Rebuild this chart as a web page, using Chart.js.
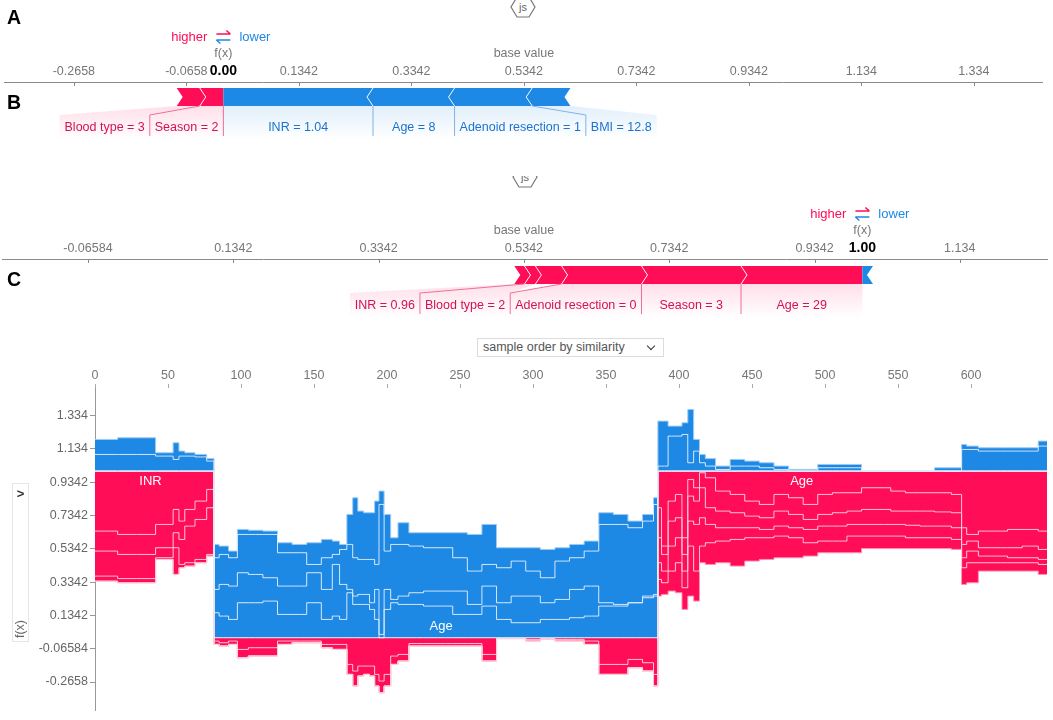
<!DOCTYPE html>
<html>
<head>
<meta charset="utf-8">
<title>Force plots</title>
<script src="https://cdn.jsdelivr.net/npm/chart.js@4.4.1/dist/chart.umd.min.js"></script>
<style>
  html, body { margin: 0; padding: 0; background: #fff; }
  body { width: 1053px; height: 720px; position: relative; overflow: hidden; font-family: "Liberation Sans", Arial, sans-serif; }
  canvas { position: absolute; left: 0; }
  #chartA { top: 0; }
  #chartB { top: 170px; }
  #chartC { top: 360px; }
  .letter { position: absolute; left: 7px; font: bold 19.5px/20px "Liberation Sans", Arial, sans-serif; color: #000; z-index: 2; }
  .jsicon { position: absolute; overflow: hidden; width: 26px; }
  .jsicon svg { position: absolute; left: 0; }
  #orderBox { position: absolute; left: 477px; top: 338px; width: 187px; height: 19px; box-sizing: border-box;
              border: 1px solid #dcdcdc; font-size: 12.5px; line-height: 17px; color: #555; padding-left: 5px; }
  #orderBox .chev { position: absolute; right: 9px; top: 4px; width: 5px; height: 5px;
                    border-right: 1.6px solid #333; border-bottom: 1.6px solid #333; transform: rotate(45deg); }
  #yBox { position: absolute; left: 12px; top: 483px; width: 17px; height: 159px; box-sizing: border-box; border: 1px solid #e6e6e6; }
  #yBox .arrow { position: absolute; left: 0; width: 15px; top: 2px; text-align: center; font: bold 13px "Liberation Sans", Arial, sans-serif; color: #333; }
  #yBox .lab { position: absolute; left: -8px; top: 138px; width: 30px; text-align: center; font-size: 12.5px; color: #666; transform: rotate(-90deg); }
</style>
</head>
<body>
<div class="letter" style="top:7px">A</div>
<div class="letter" style="top:92px">B</div>
<div class="letter" style="top:269px">C</div>

<div class="jsicon" style="left:510px; top:0; height:20px;">
  <svg width="26" height="24" style="top:-4px"><polygon points="7,1 19,1 25,11 19,21 7,21 1,11" fill="none" stroke="#777" stroke-width="1.2"/><text x="13" y="15" font-size="11" text-anchor="middle" fill="#666" font-family="Liberation Sans, Arial">js</text></svg>
</div>
<div class="jsicon" style="left:512px; top:176px; height:15px;">
  <svg width="26" height="24" style="top:-10px"><polygon points="7,1 19,1 25,11 19,21 7,21 1,11" fill="none" stroke="#777" stroke-width="1.2"/><text x="13" y="15" font-size="11" text-anchor="middle" fill="#666" font-family="Liberation Sans, Arial">js</text></svg>
</div>

<canvas id="chartA" width="1053" height="160"></canvas>
<canvas id="chartB" width="1053" height="160"></canvas>
<div id="orderBox">sample order by similarity<span class="chev"></span></div>
<canvas id="chartC" width="1053" height="360"></canvas>
<div id="yBox"><div class="arrow">&gt;</div><div class="lab">f(x)</div></div>

<script>
// ---------- panel A / B : single-sample force plots ----------
const ticksA = [-0.2658, -0.0658, 0.1342, 0.3342, 0.5342, 0.7342, 0.9342, 1.134, 1.334];
const fxA = 0.00;
const baseA = 0.5342;
const featA = ['Blood type = 3', 'Season = 2', 'INR = 1.04', 'Age = 8', 'Adenoid resection = 1', 'BMI = 12.8'];
const shapA = [0.041, 0.042, -0.266, -0.145, -0.138, -0.068];

const ticksB = [-0.06584, 0.1342, 0.3342, 0.5342, 0.7342, 0.9342, 1.134];
const fxB = 1.00;
const baseB = 0.5342;
const featB = ['INR = 0.96', 'Blood type = 2', '', 'Adenoid resection = 0', 'Season = 3', 'Age = 29', ''];
const shapB = [0.014, 0.015, 0.036, 0.110, 0.137, 0.167, -0.0146];

// ---------- panel C : stacked force plot over samples ----------
const cTicksX = [0, 50, 100, 150, 200, 250, 300, 350, 400, 450, 500, 550, 600];
const cTicksY = [1.334, 1.134, 0.9342, 0.7342, 0.5342, 0.3342, 0.1342, -0.06584, -0.2658];

const sampleIdx = [
  0, 15, 16, 41, 42, 50, 57, 58, 65, 72, 81,
  82, 88, 95, 100, 110, 120, 130, 140, 150, 160, 165, 170, 175, 178, 182, 186, 190, 193, 196, 200,
  205, 210, 220, 230, 240, 250, 260, 270, 280, 290, 300, 310, 320, 330, 340, 350, 360, 370, 380, 385,
  386, 390, 395, 400, 404, 408, 412, 416, 420, 430, 440, 450, 460, 470, 480, 490, 500, 510, 520, 530,
  540, 550, 560, 570, 580, 593, 594, 600, 610, 620, 630, 640, 652
];
const fxLine = [
  1, 1, 1, 1, 1, 1, 1, 1, 1, 1, 1,
  0, 0, 0, 0, 0, 0, 0, 0, 0, 0, 0, 0, 0, 0, 0, 0, 0, 0, 0, 0,
  0, 0, 0, 0, 0, 0, 0, 0, 0, 0, 0, 0, 0, 0, 0, 0, 0, 0, 0, 0,
  1, 1, 1, 1, 1, 1, 1, 1, 1, 1, 1, 1, 1, 1, 1, 1, 1, 1, 1, 1,
  1, 1, 1, 1, 1, 1, 1, 1, 1, 1, 1, 1, 1
];
// blue (pushing lower) boundaries, from f(x) outward
const blueEdge1 = [
  1, 1, 1, 1, 1, 1, 1, 1, 1, 1, 1,
  0.15, 0.13, 0.11, 0.21, 0.21, 0.22, 0.14, 0.14, 0.21, 0.11, 0.13, 0.11, 0.27, 0.20, 0.20, 0.20, 0.17, 0.11, 0.0, 0.17,
  0.21, 0.20, 0.20, 0.19, 0.19, 0.14, 0.14, 0.19, 0.11, 0.09, 0.09, 0.11, 0.11, 0.12, 0.13, 0.19, 0.19, 0.21, 0.24, 0.25,
  1, 1, 1, 1, 1, 1, 1, 1, 1, 1, 1, 1, 1, 1, 1, 1, 1, 1, 1, 1,
  1, 1, 1, 1, 1, 1, 1, 1, 1, 1, 1, 1, 1
];
const blueEdge2 = [
  1, 1, 1, 1, 1, 1, 1, 1, 1, 1, 1,
  0.29, 0.32, 0.31, 0.39, 0.38, 0.36, 0.31, 0.31, 0.39, 0.29, 0.44, 0.32, 0.29, 0.25, 0.26, 0.26, 0.21, 0.29, 0.02, 0.29,
  0.23, 0.25, 0.27, 0.28, 0.28, 0.28, 0.20, 0.31, 0.21, 0.25, 0.25, 0.21, 0.23, 0.29, 0.31, 0.21, 0.20, 0.21, 0.25, 0.26,
  1, 1, 1, 1, 1, 1, 1, 1, 1, 1, 1, 1, 1, 1, 1, 1, 1, 1, 1, 1,
  1, 1, 1, 1, 1, 1, 1, 1, 1, 1, 1, 1, 1
];
const blueEdge3 = [
  1.10, 1.10, 1.10, 1.10, 1.09, 1.09, 1.07, 1.09, 1.09, 1.085, 1.06,
  0.48, 0.50, 0.48, 0.62, 0.62, 0.62, 0.51, 0.51, 0.44, 0.48, 0.50, 0.53, 0.56, 0.48, 0.47, 0.47, 0.47, 0.44, 0.80, 0.52,
  0.56, 0.56, 0.55, 0.54, 0.54, 0.48, 0.40, 0.44, 0.42, 0.46, 0.40, 0.36, 0.46, 0.48, 0.52, 0.68, 0.68, 0.66, 0.70, 0.80,
  1.03, 1.03, 1.21, 1.21, 1.22, 1.05, 1.12, 1.05, 1.03, 1.01, 1.03, 1.03, 1.02, 1.01, 1.0, 1.0, 1.02, 1.02, 1.02, 1.0,
  1.0, 1.0, 1.0, 1.0, 1.0, 1.0, 1.13, 1.13, 1.12, 1.12, 1.12, 1.12, 1.15
];
const blueEdge4 = [
  1.19, 1.19, 1.20, 1.20, 1.11, 1.11, 1.17, 1.12, 1.11, 1.10, 1.075,
  0.56, 0.55, 0.52, 0.65, 0.645, 0.64, 0.57, 0.56, 0.57, 0.59, 0.58, 0.56, 0.74, 0.84, 0.76, 0.75, 0.75, 0.82, 0.88, 0.74,
  0.60, 0.69, 0.63, 0.63, 0.63, 0.63, 0.62, 0.68, 0.54, 0.54, 0.54, 0.53, 0.54, 0.56, 0.58, 0.75, 0.74, 0.70, 0.74, 0.84,
  1.30, 1.30, 1.27, 1.27, 1.29, 1.37, 1.19, 1.10, 1.075, 1.03, 1.07, 1.06, 1.05, 1.03, 1.01, 1.01, 1.04, 1.04, 1.04, 1.0,
  1.0, 1.0, 1.0, 1.0, 1.02, 1.02, 1.16, 1.15, 1.14, 1.14, 1.14, 1.14, 1.18
];
// red (pushing higher) boundaries, from f(x) outward
const redEdge1 = [
  0.64, 0.64, 0.62, 0.62, 0.68, 0.68, 0.77, 0.70, 0.77, 0.82, 0.89,
  -0.02, -0.03, -0.02, -0.07, -0.06, -0.06, -0.02, -0.02, -0.02, -0.04, -0.04, -0.04, -0.16, -0.20, -0.17, -0.17, -0.17, -0.22, -0.26, -0.22,
  -0.11, -0.10, -0.035, -0.035, -0.035, -0.035, -0.035, -0.10, -0.003, -0.003, -0.01, -0.005, -0.01, -0.01, -0.02, -0.16, -0.16, -0.13, -0.15, -0.22,
  0.78, 0.55, 0.82, 0.86, 0.60, 0.95, 0.90, 0.99, 0.96, 0.88, 0.86, 0.82, 0.80, 0.86, 0.84, 0.80, 0.86, 0.87, 0.87, 0.90,
  0.90, 0.88, 0.87, 0.87, 0.87, 0.86, 0.66, 0.62, 0.64, 0.64, 0.65, 0.65, 0.64
];
const redBottomMid = [
  -0.04, -0.05, -0.04, -0.12, -0.11, -0.11, -0.04, -0.03, -0.03, -0.06, -0.07, -0.07, -0.22, -0.29, -0.23, -0.22, -0.23, -0.29, -0.33, -0.29,
  -0.16, -0.14, -0.05, -0.05, -0.05, -0.05, -0.05, -0.14, -0.005, -0.005, -0.02, -0.01, -0.02, -0.02, -0.04, -0.22, -0.22, -0.18, -0.20, -0.29
];
const redEdge2 = [].concat(
  [0.52, 0.52, 0.50, 0.50, 0.54, 0.54, 0.63, 0.59, 0.67, 0.71, 0.78],
  redBottomMid,
  [0.60, 0.50, 0.70, 0.72, 0.50, 0.85, 0.82, 0.90, 0.78, 0.76, 0.75, 0.73, 0.72, 0.76, 0.74, 0.71, 0.74, 0.75, 0.76, 0.77,
   0.77, 0.76, 0.76, 0.76, 0.755, 0.75, 0.56, 0.58, 0.54, 0.54, 0.54, 0.55, 0.53]
);
const redEdge3 = [].concat(
  [0.37, 0.37, 0.355, 0.355, 0.48, 0.48, 0.54, 0.44, 0.45, 0.47, 0.50],
  redBottomMid,
  [0.45, 0.40, 0.55, 0.60, 0.40, 0.70, 0.68, 0.72, 0.68, 0.66, 0.66, 0.66, 0.65, 0.67, 0.66, 0.65, 0.67, 0.67, 0.68, 0.68,
   0.68, 0.68, 0.675, 0.67, 0.67, 0.66, 0.48, 0.52, 0.49, 0.49, 0.48, 0.48, 0.47]
);
const redEdge4 = [].concat(
  [0.34, 0.34, 0.33, 0.33, 0.47, 0.47, 0.38, 0.42, 0.43, 0.45, 0.49],
  redBottomMid,
  [0.35, 0.33, 0.40, 0.45, 0.30, 0.55, 0.40, 0.55, 0.57, 0.58, 0.59, 0.60, 0.60, 0.61, 0.60, 0.57, 0.58, 0.58, 0.61, 0.61,
   0.61, 0.61, 0.60, 0.60, 0.60, 0.59, 0.42, 0.45, 0.45, 0.45, 0.45, 0.45, 0.44]
);
const redEdge5 = [].concat(
  [0.34, 0.34, 0.33, 0.33, 0.47, 0.47, 0.38, 0.42, 0.43, 0.45, 0.49],
  redBottomMid,
  [0.25, 0.26, 0.28, 0.27, 0.17, 0.25, 0.22, 0.45, 0.44, 0.45, 0.43, 0.46, 0.47, 0.48, 0.48, 0.49, 0.51, 0.51, 0.51, 0.535,
   0.535, 0.535, 0.535, 0.535, 0.535, 0.53, 0.32, 0.33, 0.40, 0.40, 0.40, 0.40, 0.38]
);

const RED = '#ff0d57';
const BLUE = '#1e88e5';
const RED_TEXT = '#d3124f';
const BLUE_TEXT = '#1c73cf';
const FONT = '"Liberation Sans", Arial, sans-serif';

Chart.defaults.font.family = FONT;
Chart.defaults.animation = false;

// lay the features out around f(x): red ones end at f(x), blue ones start there
function splitForce(fx, names, shaps) {
  const segs = [];
  let right = fx;
  for (let i = names.length - 1; i >= 0; i--) {
    if (shaps[i] > 0) {
      segs.push({ name: names[i], lo: right - shaps[i], hi: right, pos: true });
      right -= shaps[i];
    }
  }
  let left = fx;
  for (let i = 0; i < names.length; i++) {
    if (shaps[i] < 0) {
      segs.push({ name: names[i], lo: left, hi: left - shaps[i], pos: false });
      left -= shaps[i];
    }
  }
  return segs;
}

function drawHigherLower(ctx, x, y) {
  ctx.font = '13px ' + FONT;
  ctx.textBaseline = 'middle';
  ctx.fillStyle = RED; ctx.textAlign = 'right'; ctx.fillText('higher', x - 16, y);
  ctx.fillStyle = BLUE; ctx.textAlign = 'left'; ctx.fillText('lower', x + 16, y);
  ctx.lineWidth = 1.5;
  ctx.strokeStyle = RED;
  ctx.beginPath(); ctx.moveTo(x - 7, y - 3); ctx.lineTo(x + 7, y - 3); ctx.moveTo(x + 3, y - 6.5); ctx.lineTo(x + 7, y - 3); ctx.stroke();
  ctx.strokeStyle = BLUE;
  ctx.beginPath(); ctx.moveTo(x + 7, y + 3); ctx.lineTo(x - 7, y + 3); ctx.moveTo(x - 3, y + 6.5); ctx.lineTo(x - 7, y + 3); ctx.stroke();
}

function forcePlugin(fx, base, segs) {
  return {
    id: 'forceDraw',
    afterDatasetsDraw(chart) {
      const ctx = chart.ctx;
      const xs = chart.scales.x;
      const area = chart.chartArea;
      const tip = 6;
      const fxPx = xs.getPixelForValue(fx);
      ctx.save();

      // little ticks under the axis line
      ctx.strokeStyle = '#888';
      ctx.lineWidth = 1;
      xs.ticks.forEach(t => {
        const p = Math.round(xs.getPixelForValue(t.value)) + 0.5;
        ctx.beginPath(); ctx.moveTo(p, area.top); ctx.lineTo(p, area.top + 4); ctx.stroke();
      });

      // chevron bars, geometry taken from the floating bar elements
      const geo = segs.map((s, i) => {
        const el = chart.getDatasetMeta(i).data[0];
        return { s, a: Math.min(el.x, el.base), b: Math.max(el.x, el.base), top: el.y - el.height / 2, bot: el.y + el.height / 2, mid: el.y };
      });
      const firstRed = geo.find(g => g.s.pos);
      const firstBlue = geo.find(g => !g.s.pos);
      geo.forEach(g => {
        const { a, b, top, bot, mid } = g;
        ctx.fillStyle = g.s.pos ? RED : BLUE;
        ctx.beginPath();
        if (g.s.pos) {
          const tr = g === firstRed ? 0 : tip;
          ctx.moveTo(a, top); ctx.lineTo(b, top); ctx.lineTo(b + tr, mid); ctx.lineTo(b, bot); ctx.lineTo(a, bot); ctx.lineTo(a + tip, mid);
        } else {
          const tl = g === firstBlue ? 0 : tip;
          ctx.moveTo(a, top); ctx.lineTo(b, top); ctx.lineTo(b - tip, mid); ctx.lineTo(b, bot); ctx.lineTo(a, bot); ctx.lineTo(a - tl, mid);
        }
        ctx.closePath();
        ctx.fill();
      });
      ctx.strokeStyle = 'rgba(255,255,255,0.9)';
      ctx.lineWidth = 1;
      geo.forEach(g => {
        if (g === firstRed || g === firstBlue) return;
        ctx.beginPath();
        if (g.s.pos) { ctx.moveTo(g.b, g.top); ctx.lineTo(g.b + tip, g.mid); ctx.lineTo(g.b, g.bot); }
        else { ctx.moveTo(g.a, g.top); ctx.lineTo(g.a - tip, g.mid); ctx.lineTo(g.a, g.bot); }
        ctx.stroke();
      });

      // label regions below the bar
      const bot = geo[0].bot;
      ctx.font = '12.5px ' + FONT;
      const pad = 10;
      const regions = [];
      let edge = fxPx;
      geo.filter(g => g.s.pos && g.s.name).forEach(g => {
        const w = ctx.measureText(g.s.name).width + pad;
        const lo = Math.min(g.a, edge - w);
        regions.push({ g, lo, hi: edge, segEdge: g.a, pos: true });
        edge = lo;
      });
      const redRegs = regions.slice();
      edge = fxPx;
      geo.filter(g => !g.s.pos && g.s.name).forEach(g => {
        const w = ctx.measureText(g.s.name).width + pad;
        const hi = Math.max(g.b, edge + w);
        regions.push({ g, lo: edge, hi, segEdge: g.b, pos: false });
        edge = hi;
      });
      const blueRegs = regions.filter(r => !r.pos);

      // soft fades joining each bar piece to its label
      regions.forEach(r => {
        const grad = ctx.createLinearGradient(0, bot, 0, bot + 34);
        const c = r.pos ? '255,13,87' : '30,136,229';
        grad.addColorStop(0, 'rgba(' + c + ',0.13)');
        grad.addColorStop(1, 'rgba(' + c + ',0)');
        ctx.fillStyle = grad;
        ctx.beginPath();
        ctx.moveTo(r.g.a, bot); ctx.lineTo(r.g.b, bot);
        ctx.lineTo(r.hi, bot + 9); ctx.lineTo(r.hi, bot + 34); ctx.lineTo(r.lo, bot + 34); ctx.lineTo(r.lo, bot + 9);
        ctx.closePath();
        ctx.fill();
      });

      // connector lines between neighbouring labels
      ctx.lineWidth = 1;
      const connect = (x0, x1, col) => {
        ctx.strokeStyle = col;
        ctx.beginPath(); ctx.moveTo(x0, bot); ctx.lineTo(x1, bot + 9); ctx.lineTo(x1, bot + 30); ctx.stroke();
      };
      redRegs.forEach((r, k) => { if (k < redRegs.length - 1) connect(r.segEdge, r.lo, '#ee6f96'); });
      blueRegs.forEach((r, k) => { if (k < blueRegs.length - 1) connect(r.segEdge, r.hi, '#7fb3e6'); });
      if (redRegs.length && blueRegs.length) connect(fxPx, fxPx, '#ee6f96');

      ctx.textAlign = 'center';
      ctx.textBaseline = 'middle';
      regions.forEach(r => {
        ctx.fillStyle = r.pos ? RED_TEXT : BLUE_TEXT;
        ctx.fillText(r.g.s.name, (r.lo + r.hi) / 2, bot + 22);
      });

      // header texts above the axis
      const basePx = xs.getPixelForValue(base);
      ctx.font = '12.5px ' + FONT;
      ctx.fillStyle = '#777';
      ctx.fillText('f(x)', fxPx, area.top - 28);
      ctx.fillText('base value', basePx, area.top - 28);
      ctx.font = 'bold 14px ' + FONT;
      ctx.fillStyle = '#000';
      ctx.fillText(fx.toFixed(2), fxPx, area.top - 10.5);
      drawHigherLower(ctx, fxPx, area.top - 45);
      ctx.restore();
    }
  };
}

function forceChart(id, fx, base, names, shaps, ticks, xmin, xmax, pad) {
  const segs = splitForce(fx, names, shaps);
  return new Chart(document.getElementById(id), {
    type: 'bar',
    data: {
      labels: [''],
      datasets: segs.map(s => ({
        label: s.name,
        data: [[s.lo, s.hi]],
        backgroundColor: 'rgba(0,0,0,0)',
        borderWidth: 0,
        grouped: false,
        barThickness: 18
      }))
    },
    options: {
      indexAxis: 'y',
      responsive: false,
      animation: false,
      events: [],
      layout: { padding: pad },
      plugins: { legend: { display: false }, tooltip: { enabled: false } },
      scales: {
        x: {
          type: 'linear', position: 'top', min: xmin, max: xmax,
          afterBuildTicks: s => { s.ticks = ticks.map(v => ({ value: v })); },
          afterFit: s => { s.height = 20; },
          ticks: { autoSkip: false, maxRotation: 0, padding: 3, color: '#777', font: { size: 12.5 }, callback: v => String(v) },
          grid: { display: false, drawTicks: false },
          border: { display: true, color: '#8a8a8a', width: 1 }
        },
        y: { display: false }
      }
    },
    plugins: [forcePlugin(fx, base, segs)]
  });
}

forceChart('chartA', fxA, baseA, featA, shapA, ticksA, -0.39, 1.4553, { left: 4, right: 11, top: 62, bottom: 48 });
forceChart('chartB', fxB, baseB, featB, shapB, ticksB, -0.1841, 1.2541, { left: 2, right: 6, top: 69, bottom: 39 });

// ---------- panel C ----------
const pts = arr => sampleIdx.map((x, i) => ({ x, y: arr[i] }));
const inBlue = 'rgba(222,237,252,0.9)';
const inRed = 'rgba(255,206,221,0.9)';
const layers = [
  { data: fxLine, fill: false, line: '#e6eef8', color: 'rgba(0,0,0,0)' },
  { data: blueEdge1, fill: 0, line: inBlue, color: BLUE },
  { data: blueEdge2, fill: 1, line: inBlue, color: BLUE },
  { data: blueEdge3, fill: 2, line: inBlue, color: BLUE },
  { data: blueEdge4, fill: 3, line: '#9fcbf3', color: BLUE },
  { data: redEdge1, fill: 0, line: inRed, color: RED },
  { data: redEdge2, fill: 5, line: inRed, color: RED },
  { data: redEdge3, fill: 6, line: inRed, color: RED },
  { data: redEdge4, fill: 7, line: inRed, color: RED },
  { data: redEdge5, fill: 8, line: '#ff93b4', color: RED }
];

const bandNotes = [
  { text: 'INR', x: 38, y: 0.94 },
  { text: 'Age', x: 237, y: 0.065 },
  { text: 'Age', x: 484, y: 0.94 }
];

new Chart(document.getElementById('chartC'), {
  type: 'line',
  data: {
    datasets: layers.map(l => ({
      data: pts(l.data),
      fill: l.fill === false ? false : { target: l.fill },
      backgroundColor: l.color,
      borderColor: l.line,
      borderWidth: 1,
      pointRadius: 0,
      stepped: 'middle',
      tension: 0
    }))
  },
  options: {
    responsive: false,
    animation: false,
    events: [],
    layout: { padding: { left: 0, right: 6, top: 0, bottom: 3 } },
    plugins: { legend: { display: false }, tooltip: { enabled: false }, filler: { drawTime: 'beforeDatasetsDraw' } },
    scales: {
      x: {
        type: 'linear', position: 'top', min: 0, max: 652,
        afterBuildTicks: s => { s.ticks = cTicksX.map(v => ({ value: v })); },
        afterFit: s => { s.height = 28; },
        ticks: { autoSkip: false, maxRotation: 0, padding: 1, color: '#777', font: { size: 12.5 } },
        grid: { drawOnChartArea: false, drawTicks: true, tickLength: 4, color: '#aaa' },
        border: { display: false }
      },
      y: {
        type: 'linear', min: -0.4366, max: 1.4987,
        afterBuildTicks: s => { s.ticks = cTicksY.map(v => ({ value: v })); },
        afterFit: s => { s.width = 95; },
        ticks: { autoSkip: false, padding: 2, color: '#666', font: { size: 12.5 }, callback: v => String(v) },
        grid: { drawOnChartArea: false, drawTicks: true, tickLength: 5, color: '#999' },
        border: { display: true, color: '#999', width: 1 }
      }
    }
  },
  plugins: [{
    id: 'bandNotes',
    afterDatasetsDraw(chart) {
      const ctx = chart.ctx;
      ctx.save();
      ctx.font = '13px ' + FONT;
      ctx.fillStyle = '#fff';
      ctx.textAlign = 'center';
      ctx.textBaseline = 'middle';
      bandNotes.forEach(n => ctx.fillText(n.text, chart.scales.x.getPixelForValue(n.x), chart.scales.y.getPixelForValue(n.y)));
      ctx.restore();
    }
  }]
});
</script>
</body>
</html>
